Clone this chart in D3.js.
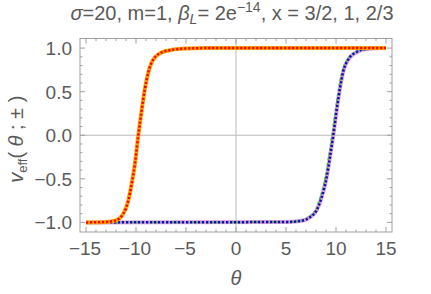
<!DOCTYPE html>
<html>
<head>
<meta charset="utf-8">
<script src="https://cdn.jsdelivr.net/npm/d3@7"></script>
<style>
  body { margin: 0; background: #fff; }
  text { font-family: "Liberation Sans", Arial, sans-serif; fill: #5a5a5a; }
</style>
</head>
<body>
<svg id="chart" width="431" height="294"></svg>
<script>
// "+" branch (x = 3/2, 1, 2/3 coincide)
var thetaPlus = [-15, -13, -12.1, -11.27, -10.77, -10.43, -10.1, -9.77, -9.43, -9.1, -8.77, -8.27, -7.43, -6.43, -5, -3, 15];
var vPlus = [-1, -0.995, -0.98, -0.9, -0.75, -0.555, -0.32, 0, 0.29, 0.54, 0.72, 0.87, 0.95, 0.98, 0.995, 1, 1];
// "-" branch
var thetaMinus = [-15, 5, 6.4, 7.4, 8.07, 8.57, 9.07, 9.4, 9.73, 10.07, 10.4, 10.73, 11.23, 12.07, 13.07, 15];
var vMinus = [-1, -0.995, -0.985, -0.94, -0.86, -0.71, -0.48, -0.25, 0, 0.29, 0.54, 0.735, 0.87, 0.955, 0.99, 1];
var thetaGreen = [-15, 5, 6.3, 7.3, 7.95, 8.45, 8.95, 9.28, 9.62, 9.97, 10.3, 10.65, 11.15, 12, 13, 15];

var xTicks = [-15, -10, -5, 0, 5, 10, 15];
var yTicks = [-1, -0.5, 0, 0.5, 1];

var svg = d3.select("#chart");
var frameL = 80, frameR = 392, frameT = 38.5, frameB = 232;

var x = d3.scaleLinear().domain([-15.6, 15.6]).range([frameL, frameR]);
var y = d3.scaleLinear().domain([-1.11, 1.11]).range([frameB, frameT]);

var fmtY = function (d) {
  return d3.format(".1f")(d).replace("-", "\u2212");
};
var fmtX = function (d) {
  return (d < 0 ? "\u2212" : "") + Math.abs(d);
};

// grid lines through zero
svg.append("line")
  .attr("x1", x(0)).attr("x2", x(0))
  .attr("y1", frameT).attr("y2", frameB)
  .attr("stroke", "#bbb").attr("stroke-width", 1);
svg.append("line")
  .attr("x1", frameL).attr("x2", frameR)
  .attr("y1", y(0)).attr("y2", y(0))
  .attr("stroke", "#bbb").attr("stroke-width", 1);

// frame
svg.append("rect")
  .attr("x", frameL).attr("y", frameT)
  .attr("width", frameR - frameL).attr("height", frameB - frameT)
  .attr("fill", "none").attr("stroke", "#a0a0a0").attr("stroke-width", 1);

// ticks on all sides
var minorX = d3.range(-15, 16, 1);
var minorY = d3.range(-10, 11, 1).map(function (d) { return d / 10; });
var tg = svg.append("g").attr("stroke", "#a0a0a0").attr("stroke-width", 1);
minorX.forEach(function (d) {
  var len = d % 5 === 0 ? 5 : 2.5;
  tg.append("line").attr("x1", x(d)).attr("x2", x(d)).attr("y1", frameB).attr("y2", frameB - len);
  tg.append("line").attr("x1", x(d)).attr("x2", x(d)).attr("y1", frameT).attr("y2", frameT + len);
});
minorY.forEach(function (d) {
  var len = Math.round(d * 10) % 5 === 0 ? 5 : 2.5;
  tg.append("line").attr("y1", y(d)).attr("y2", y(d)).attr("x1", frameL).attr("x2", frameL + len);
  tg.append("line").attr("y1", y(d)).attr("y2", y(d)).attr("x1", frameR).attr("x2", frameR - len);
});

// tick labels
svg.selectAll(".xl").data(xTicks).enter().append("text")
  .attr("x", function (d) { return x(d) - (d < 0 ? 1 : 0); })
  .attr("y", 255)
  .attr("text-anchor", "middle")
  .style("font-size", "19px")
  .text(fmtX);
svg.selectAll(".yl").data(yTicks).enter().append("text")
  .attr("x", 72)
  .attr("y", function (d) { return y(d) + 7; })
  .attr("text-anchor", "end")
  .style("font-size", "19px")
  .text(fmtY);

// curves
var line = function (ts, vs) {
  return d3.line()
    .x(function (d, i) { return x(ts[i]); })
    .y(function (d, i) { return y(vs[i]); })
    .curve(d3.curveMonotoneX)(vs);
};
var cg = svg.append("g").attr("fill", "none");
cg.append("path").attr("d", line(thetaMinus, vMinus))
  .attr("stroke", "#dda0dd").attr("stroke-width", 4);
cg.append("path").attr("d", line(thetaGreen, vMinus))
  .attr("stroke", "#5cb85c").attr("stroke-width", 2).attr("stroke-dasharray", "3,2");
cg.append("path").attr("d", line(thetaMinus, vMinus))
  .attr("stroke", "#1010b0").attr("stroke-width", 2.5).attr("stroke-dasharray", "2.2,1.8");
cg.append("path").attr("d", line(thetaPlus, vPlus))
  .attr("stroke", "#ffa500").attr("stroke-width", 4);
cg.append("path").attr("d", line(thetaPlus, vPlus))
  .attr("stroke", "#ff0000").attr("stroke-width", 2.5).attr("stroke-dasharray", "2.2,1.8");

// title
var title = svg.append("text")
  .attr("x", 232).attr("y", 20)
  .attr("text-anchor", "middle")
  .style("font-size", "20px");
title.append("tspan").style("font-style", "italic").text("\u03c3");
title.append("tspan").text("=20, m=1, ");
title.append("tspan").style("font-style", "italic").text("\u03b2");
title.append("tspan").style("font-style", "italic").style("font-size", "14px").attr("dy", 4).text("L");
title.append("tspan").attr("dy", -4).text("= 2e");
title.append("tspan").style("font-size", "14px").attr("dy", -8).text("\u221214");
title.append("tspan").attr("dy", 8).text(", x = 3/2, 1, 2/3");

// axis labels
svg.append("text")
  .attr("x", x(0)).attr("y", 285)
  .attr("text-anchor", "middle")
  .style("font-size", "20px").style("font-style", "italic")
  .text("\u03b8");

var yl = svg.append("text")
  .attr("transform", "translate(23," + (y(0) + 4) + ") rotate(-90)")
  .attr("text-anchor", "middle")
  .style("font-size", "20px");
yl.append("tspan").style("font-style", "italic").text("v");
yl.append("tspan").style("font-size", "13px").attr("dy", 4).text("eff");
yl.append("tspan").attr("dy", -4).text("( ");
yl.append("tspan").style("font-style", "italic").text("\u03b8");
yl.append("tspan").text(" ; \u00b1 )");
</script>
</body>
</html>
